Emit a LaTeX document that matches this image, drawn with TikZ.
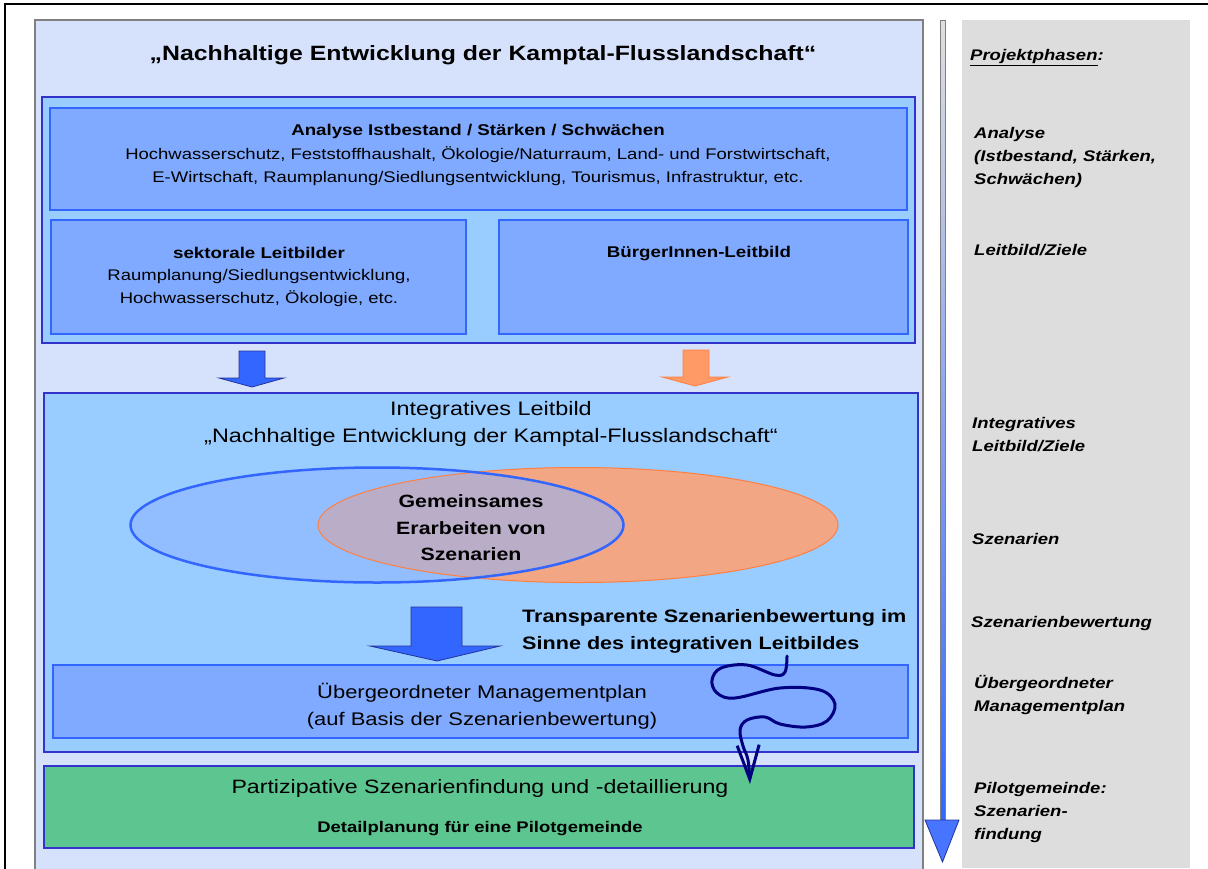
\documentclass[tikz,border=0pt]{standalone}
\usepackage{fontspec}
\setmainfont[FakeStretch=1.2]{Liberation Sans}
\usetikzlibrary{arrows.meta,shapes.geometric,positioning}
\definecolor{panelbg}{HTML}{D6E2FC}
\definecolor{groupbg}{HTML}{99CCFF}
\definecolor{groupline}{HTML}{3333CC}
\definecolor{boxbg}{HTML}{80AAFF}
\definecolor{boxline}{HTML}{3366FF}
\definecolor{arrowblue}{HTML}{3366FF}
\definecolor{arrowblueline}{HTML}{22339A}
\definecolor{arroworange}{HTML}{FF9966}
\definecolor{arroworangeline}{HTML}{FF7F40}
\definecolor{ellblue}{HTML}{8DB4FF}
\definecolor{ellorange}{HTML}{F2A684}
\definecolor{greenbox}{HTML}{5CC590}
\definecolor{phasebg}{HTML}{DDDDDD}
\definecolor{squiggle}{HTML}{000080}

\begin{document}
\begin{tikzpicture}[x=1pt,y=-1pt,
    grp/.style={draw=groupline,line width=2pt,fill=groupbg,anchor=north west,outer sep=0pt},
    box/.style={draw=boxline,line width=2pt,fill=boxbg,anchor=north west,outer sep=0pt},
    hd/.style={font=\fontsize{15.6}{22}\selectfont\bfseries,inner sep=0pt},
    body/.style={font=\fontsize{15.4}{22.5}\selectfont,align=center,inner sep=0pt},
    big/.style={font=\fontsize{19.5}{27}\selectfont,align=center,inner sep=0pt},
    bigb/.style={font=\fontsize{18}{27}\selectfont\bfseries,align=center,inner sep=0pt},
    phase/.style={font=\fontsize{15.4}{23}\selectfont\bfseries\itshape,align=left,anchor=west,inner sep=0pt}]
\useasboundingbox (0,0) rectangle (1208,868);

% frame and panel
\draw[black,line width=2pt] (5,870) -- (5,4) -- (1210,4);
\node[draw=gray,line width=1.5pt,fill=panelbg,anchor=north west,outer sep=0pt,minimum width=888,minimum height=850] (panel) at (35,20) {};
\node[font=\fontsize{20.7}{26}\selectfont\bfseries,inner sep=0pt] (title) at (483,55) {„Nachhaltige Entwicklung der Kamptal-Flusslandschaft“};

% analysis and leitbilder
\node[grp,minimum width=873,minimum height=246] (grpA) at (42,97) {};
\node[box,minimum width=857,minimum height=102] (analyse) at (50,108) {};
\node[box,minimum width=415,minimum height=114] (sektor) at (51,220) {};
\node[box,minimum width=409,minimum height=114] (buerger) at (499,220) {};
\node[hd] (analyseH) at (478,131) {Analyse Istbestand / Stärken / Schwächen};
\node[body] (analyseT) at (478,166) {Hochwasserschutz, Feststoffhaushalt, Ökologie/Naturraum, Land- und Forstwirtschaft,\\E-Wirtschaft, Raumplanung/Siedlungsentwicklung, Tourismus, Infrastruktur, etc.};
\node[hd] (sektorH) at (259,253) {sektorale Leitbilder};
\node[body] (sektorT) at (259,288) {Raumplanung/Siedlungsentwicklung,\\Hochwasserschutz, Ökologie, etc.};
\node[hd] (buergerH) at (699,253) {BürgerInnen-Leitbild};

% block arrows
\filldraw[fill=arrowblue,draw=arrowblueline,line width=0.8pt] (239,351) -- (265,351) -- (265,378) -- (284,378) -- (252,387) -- (219,378) -- (239,378) -- cycle;
\filldraw[fill=arroworange,draw=arroworangeline,line width=0.8pt] (683,350) -- (709,350) -- (709,377) -- (728,377) -- (695,386) -- (662,377) -- (683,377) -- cycle;

% integratives leitbild
\node[grp,minimum width=874,minimum height=359] (grpB) at (44,393) {};
\node[big] (integT) at (491,424) {Integratives Leitbild\\„Nachhaltige Entwicklung der Kamptal-Flusslandschaft“};
\node[ellipse,fill=ellorange,minimum width=520,minimum height=115,inner sep=0pt] (orangeE) at (578,525) {};
\node[ellipse,fill=ellblue,fill opacity=0.55,minimum width=493,minimum height=115,inner sep=0pt] (blueE) at (377,525) {};
\node[ellipse,draw=arroworangeline,line width=1pt,minimum width=520,minimum height=115,inner sep=0pt] at (orangeE) {};
\node[ellipse,draw=boxline,line width=2.5pt,minimum width=493,minimum height=115,inner sep=0pt] at (blueE) {};
\node[bigb,font=\fontsize{17.8}{26.5}\selectfont\bfseries] (gemein) at (471,528) {Gemeinsames\\Erarbeiten von\\Szenarien};
\filldraw[fill=arrowblue,draw=arrowblueline,line width=0.8pt] (411,607) -- (462,607) -- (462,646) -- (500,646) -- (437,661) -- (370,646) -- (411,646) -- cycle;
\node[bigb,align=left,anchor=west] (transp) at (522,631) {Transparente Szenarienbewertung im\\Sinne des integrativen Leitbildes};
\node[box,minimum width=855,minimum height=73] (manage) at (53,665) {};
\node[big,font=\fontsize{18.3}{27}\selectfont] (manageT) at (482,706) {Übergeordneter Managementplan\\(auf Basis der Szenarienbewertung)};

% pilot
\node[draw=groupline,line width=2pt,fill=greenbox,anchor=north west,outer sep=0pt,minimum width=870,minimum height=82] (green) at (44,766) {};
\node[big,font=\fontsize{19.3}{27}\selectfont] (greenT) at (480,788) {Partizipative Szenarienfindung und -detaillierung};
\node[hd,font=\fontsize{15.4}{20}\selectfont\bfseries] (greenB) at (480,829) {Detailplanung für eine Pilotgemeinde};

% squiggle
\coordinate (sqS) at (787,656);
\coordinate (sqE) at (750,784);
\draw[squiggle,line width=3pt,line cap=round,-{Straight Barb[length=34pt,width=22pt,line width=3pt]}]
  plot[smooth,tension=0.6] coordinates {(sqS) (785,672) (775,675) (747,665) (721,668) (712,680) (717,693) (735,698) (780,688) (820,690) (835,704) (827,721) (806,727) (780,724) (765,717) (747,720) (740,730) (743,746) (748,760) (sqE)};

% phases
\fill[phasebg] (962,20) rectangle (1190,868);
\shade[top color=gray!25,bottom color=arrowblue,draw=gray] (940,20) rectangle (945,821);
\filldraw[fill=arrowblue!90!white,draw=arrowblueline,line width=0.8pt] (925,820) -- (959,820) -- (942.5,862) -- cycle;
\node[phase] (p0) at (970,58) {\underline{Projektphasen}:};
\node[phase] (p1) at (974,158) {Analyse\\(Istbestand, Stärken,\\Schwächen)};
\node[phase] (p2) at (974,250) {Leitbild/Ziele};
\node[phase] (p3) at (972,435) {Integratives\\Leitbild/Ziele};
\node[phase] (p4) at (972,539) {Szenarien};
\node[phase] (p5) at (971,624) {Szenarienbewertung};
\node[phase] (p6) at (974,695) {Übergeordneter\\Managementplan};
\node[phase] (p7) at (974,813) {Pilotgemeinde:\\Szenarien-\\findung};
\end{tikzpicture}
\end{document}
